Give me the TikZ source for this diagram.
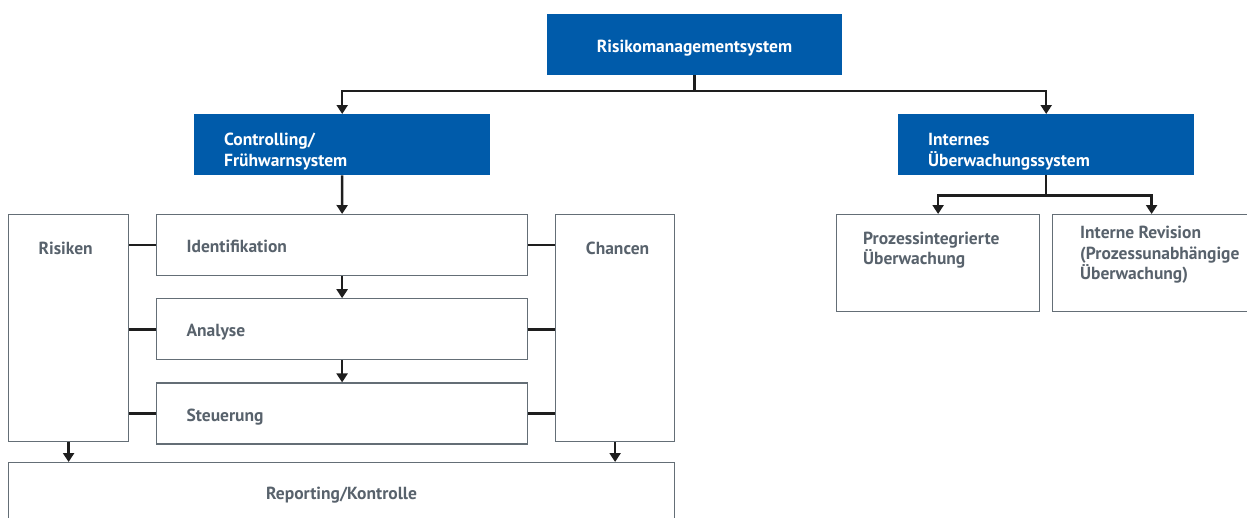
\documentclass[tikz,border=0pt]{standalone}
\usepackage{fontspec}
\setmainfont{PT Sans}
\usepackage{tikz}
\usetikzlibrary{positioning,arrows.meta}

\definecolor{rmsblue}{RGB}{0,91,170}
\definecolor{rmsframe}{RGB}{100,110,118}
\definecolor{rmstext}{RGB}{88,98,108}
\definecolor{rmsline}{RGB}{30,30,30}

\begin{document}
\begin{tikzpicture}[
  x=1pt, y=-1pt,
  font=\bfseries\fontsize{17.5}{20.5}\selectfont,
  head/.style={fill=rmsblue, text=white, minimum width=295pt,
               minimum height=61pt, inner sep=0pt},
  sub/.style={head, align=left, text width=236pt, inner xsep=30pt,
              text depth=10pt},
  phase/.style={draw=rmsframe, line width=1.2pt, text=rmstext, align=left,
                text width=311pt, inner xsep=30pt, minimum height=61pt,
                text height=17pt, text depth=2pt},
  side/.style={draw=rmsframe, line width=1.2pt, text=rmstext, inner sep=0pt},
  arr/.style={draw=rmsline, line width=2.4pt,
              -{Triangle[length=9pt,width=11pt]}},
  link/.style={draw=rmsline, line width=2.4pt}
]
\useasboundingbox (0,0) rectangle (1247,517);

% top level
\node[head, text height=17pt, text depth=2pt] (rms) at (694.5,44.5) {Risikomanagementsystem};
\node[sub, anchor=north west] (ctrl) at (194,114) {Controlling/\\Frühwarnsystem};
\node[sub, anchor=north west] (ius) at (898,114) {Internes\\Überwachungssystem};

\draw[arr] (rms.south) -- ++(0,16) -| (ctrl.north);
\draw[arr] (rms.south) -- ++(0,16) -| (ius.north);

% left branch
\node[phase, anchor=north west] (ident) at (156,214) {Identifikation};
\node[phase, below=22pt of ident] (anal) {Analyse};
\node[phase, below=22pt of anal] (steu) {Steuerung};

\node[side, anchor=north west, minimum width=120pt, minimum height=227pt,
      label={[anchor=center, yshift=-34pt, xshift=-3pt, text=rmstext]north:Risiken}]
  (risk) at (8,214) {};
\node[side, anchor=north west, minimum width=119pt, minimum height=227pt,
      label={[anchor=center, yshift=-34pt, xshift=2.5pt, text=rmstext]north:Chancen}]
  (chan) at (555,214) {};
\node[side, anchor=north west, minimum width=666pt, minimum height=62pt,
      text depth=1pt]
  (rep) at (8,462) {Reporting/Kontrolle};

\draw[arr] (ctrl) -- (ident);
\draw[arr] (ident) -- (anal);
\draw[arr] (anal) -- (steu);

\foreach \p in {ident,anal,steu}{
  \draw[link] (risk.east |- \p) -- (\p.west);
  \draw[link] (\p.east) -- (chan.west |- \p);
}

\draw[arr] (risk.south) -- (risk.south |- rep.north);
\draw[arr] (chan.south) -- (chan.south |- rep.north);

% right branch
\node[side, anchor=north west, minimum width=203pt, minimum height=97pt,
      label={[anchor=north west, align=left, inner sep=0pt, xshift=27pt,
              yshift=-17.5pt, text=rmstext]north west:Prozessintegrierte\\Überwachung}]
  (pint) at (836,214) {};
\node[side, anchor=north west, minimum width=198pt, minimum height=97pt,
      label={[anchor=north west, align=left, inner sep=0pt, xshift=28pt,
              yshift=-12pt, text=rmstext]north west:Interne Revision\\(Prozessunabhängige\\Überwachung)}]
  (rev) at (1052,214) {};

\draw[arr] (ius.south) -- ++(0,20) -| (pint.north);
\draw[arr] (ius.south) -- ++(0,20) -| (rev.north);
\end{tikzpicture}
\end{document}
